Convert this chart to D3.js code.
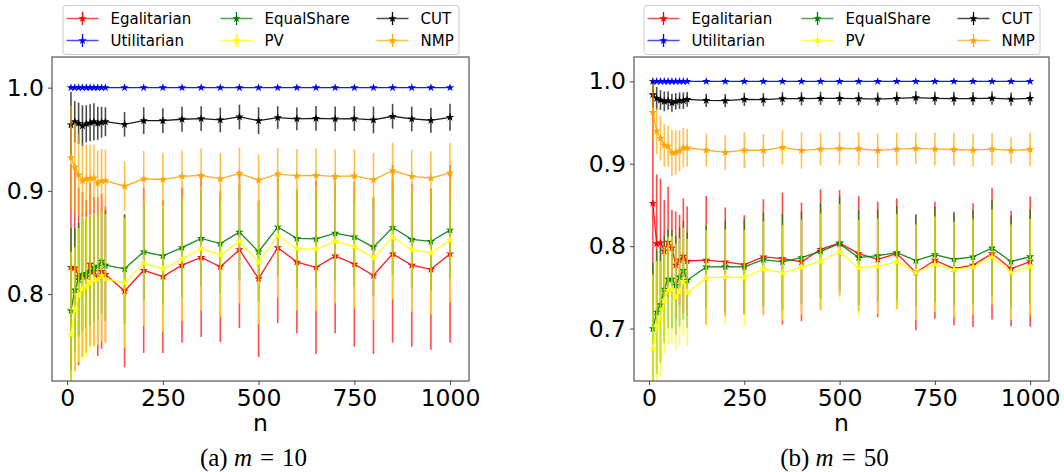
<!DOCTYPE html>
<html>
<head>
<meta charset="utf-8">
<script src="https://cdn.jsdelivr.net/npm/d3@7"></script>
<style>
body { margin: 0; background: #fff; }
svg { display: block; }
</style>
</head>
<body>
<div id="chart-area"></div>
<script>
// n values on the x axis
var nValues = [10, 20, 30, 40, 50, 60, 70, 80, 90, 100,
    150, 200, 250, 300, 350, 400, 450, 500, 550, 600,
    650, 700, 750, 800, 850, 900, 950, 1000];

var seriesNames = ["Egalitarian", "Utilitarian", "EqualShare", "PV", "CUT", "NMP"];
var seriesColors = ["#ff0000", "#0000ff", "#008000", "#ffff00", "#000000", "#ffa500"];
var xTicks = [0, 250, 500, 750, 1000];
var yTicks10 = [0.8, 0.9, 1.0];
var yTicks50 = [0.7, 0.8, 0.9, 1.0];

// (a) m = 10
var egal10 = [0.826, 0.8255, 0.817, 0.819, 0.817, 0.829, 0.822, 0.817, 0.822, 0.819,
    0.803, 0.823, 0.817, 0.828, 0.8355, 0.8265, 0.843, 0.815, 0.845, 0.831,
    0.826, 0.837, 0.829, 0.818, 0.839, 0.828, 0.824, 0.839];
var egal10Err = [0.10, 0.10, 0.086, 0.08, 0.074, 0.079, 0.072, 0.077, 0.075, 0.066,
    0.074, 0.08, 0.074, 0.075, 0.077, 0.073, 0.076, 0.076, 0.073, 0.069,
    0.084, 0.075, 0.08, 0.076, 0.086, 0.079, 0.078, 0.086];
var util10 = [1, 1, 1, 1, 1, 1, 1, 1, 1, 1, 1, 1, 1, 1, 1, 1, 1, 1, 1, 1, 1, 1, 1, 1, 1, 1, 1, 1];
var util10Err = [0, 0, 0, 0, 0, 0, 0, 0, 0, 0, 0, 0, 0, 0, 0, 0, 0, 0, 0, 0, 0, 0, 0, 0, 0, 0, 0, 0];
var equal10 = [0.784, 0.804, 0.814, 0.819, 0.820, 0.822, 0.826, 0.827, 0.832, 0.828,
    0.8245, 0.841, 0.837, 0.845, 0.854, 0.849, 0.860, 0.841, 0.865, 0.854,
    0.8535, 0.859, 0.8555, 0.8455, 0.8645, 0.853, 0.851, 0.862];
var equal10Err = [0.08, 0.06, 0.055, 0.055, 0.053, 0.053, 0.052, 0.052, 0.051, 0.054,
    0.053, 0.047, 0.047, 0.048, 0.047, 0.048, 0.046, 0.048, 0.047, 0.048,
    0.047, 0.046, 0.048, 0.047, 0.046, 0.047, 0.048, 0.047];
var pv10 = [0.761, 0.7845, 0.799, 0.805, 0.807, 0.811, 0.8136, 0.8145, 0.818, 0.8145,
    0.811, 0.830, 0.8245, 0.834, 0.844, 0.838, 0.851, 0.831, 0.8565, 0.844,
    0.8436, 0.851, 0.846, 0.835, 0.855, 0.843, 0.840, 0.852];
var pv10Err = [0.08, 0.061, 0.065, 0.07, 0.068, 0.066, 0.065, 0.064, 0.064, 0.063,
    0.063, 0.061, 0.061, 0.06, 0.06, 0.06, 0.06, 0.06, 0.06, 0.06,
    0.06, 0.06, 0.06, 0.06, 0.06, 0.06, 0.06, 0.06];
var cut10 = [0.964, 0.967, 0.9655, 0.963, 0.965, 0.966, 0.967, 0.9655, 0.9665, 0.967,
    0.9645, 0.968, 0.968, 0.9694, 0.970, 0.9687, 0.9716, 0.968, 0.971, 0.9697,
    0.9703, 0.9697, 0.970, 0.9687, 0.9723, 0.9697, 0.9684, 0.9713];
var cut10Err = [0.032, 0.02, 0.02, 0.02, 0.018, 0.018, 0.018, 0.016, 0.015, 0.014,
    0.012, 0.013, 0.012, 0.012, 0.012, 0.012, 0.012, 0.013, 0.011, 0.011,
    0.012, 0.012, 0.012, 0.013, 0.012, 0.012, 0.012, 0.013];
var nmp10 = [0.9323, 0.9229, 0.9155, 0.910, 0.9116, 0.912, 0.9126, 0.9074, 0.9097, 0.910,
    0.9045, 0.9116, 0.911, 0.914, 0.915, 0.9116, 0.917, 0.9103, 0.9165, 0.9145,
    0.915, 0.914, 0.9145, 0.9106, 0.9197, 0.914, 0.9123, 0.9174];
var nmp10Err = [0.05, 0.043, 0.04, 0.035, 0.033, 0.033, 0.032, 0.032, 0.031, 0.03,
    0.024, 0.027, 0.026, 0.025, 0.026, 0.025, 0.025, 0.025, 0.025, 0.026,
    0.026, 0.026, 0.026, 0.026, 0.027, 0.026, 0.026, 0.029];

// (b) m = 50
var egal50 = [0.852, 0.803, 0.804, 0.794, 0.805, 0.798, 0.777, 0.783, 0.788, 0.782,
    0.783, 0.781, 0.7776, 0.787, 0.785, 0.781, 0.796, 0.804, 0.791, 0.784,
    0.791, 0.768, 0.783, 0.7727, 0.777, 0.791, 0.7727, 0.7813];
var egal50Err = [0.15, 0.084, 0.078, 0.062, 0.067, 0.046, 0.065, 0.055, 0.07, 0.066,
    0.078, 0.066, 0.06, 0.07, 0.08, 0.072, 0.073, 0.064, 0.07, 0.07,
    0.067, 0.07, 0.071, 0.069, 0.075, 0.08, 0.07, 0.079];
var util50 = [1, 1, 1, 1, 1, 1, 1, 1, 1, 1, 1, 1, 1, 1, 1, 1, 1, 1, 1, 1, 1, 1, 1, 1, 1, 1, 1, 1];
var util50Err = [0, 0, 0, 0, 0, 0, 0, 0, 0, 0, 0, 0, 0, 0, 0, 0, 0, 0, 0, 0, 0, 0, 0, 0, 0, 0, 0, 0];
var equal50 = [0.700, 0.720, 0.729, 0.748, 0.760, 0.760, 0.7525, 0.7626, 0.7707, 0.7586,
    0.7748, 0.7752, 0.7748, 0.7837, 0.7809, 0.7861, 0.7938, 0.8031, 0.7861, 0.7885,
    0.7922, 0.7825, 0.7898, 0.7841, 0.7869, 0.7978, 0.7813, 0.7873];
var equal50Err = [0.08, 0.075, 0.07, 0.065, 0.06, 0.06, 0.06, 0.06, 0.06, 0.058,
    0.05, 0.056, 0.058, 0.057, 0.058, 0.056, 0.058, 0.057, 0.058, 0.056,
    0.057, 0.056, 0.058, 0.056, 0.057, 0.058, 0.056, 0.057];
var pv50 = [0.6755, 0.7019, 0.712, 0.7343, 0.7464, 0.7472, 0.7383, 0.7444, 0.7573, 0.7436,
    0.7614, 0.7626, 0.7618, 0.7723, 0.7675, 0.7744, 0.7817, 0.793, 0.7736, 0.7756,
    0.7809, 0.7683, 0.778, 0.7715, 0.7748, 0.7869, 0.7683, 0.7748];
var pv50Err = [0.09, 0.08, 0.07, 0.065, 0.065, 0.065, 0.065, 0.065, 0.065, 0.065,
    0.058, 0.058, 0.058, 0.058, 0.058, 0.058, 0.058, 0.058, 0.058, 0.058,
    0.058, 0.058, 0.058, 0.058, 0.058, 0.058, 0.058, 0.058];
var cut50 = [0.9838, 0.9793, 0.9773, 0.9757, 0.9765, 0.974, 0.9757, 0.9765, 0.9765, 0.9781,
    0.9769, 0.9765, 0.9781, 0.9777, 0.9789, 0.9789, 0.9793, 0.9793, 0.9789, 0.9785,
    0.9793, 0.9801, 0.9793, 0.9789, 0.9789, 0.9797, 0.9785, 0.9793];
var cut50Err = [0.016, 0.014, 0.012, 0.012, 0.011, 0.011, 0.01, 0.01, 0.01, 0.009,
    0.008, 0.008, 0.008, 0.008, 0.008, 0.008, 0.008, 0.008, 0.008, 0.008,
    0.008, 0.008, 0.008, 0.008, 0.008, 0.008, 0.008, 0.008];
var nmp50 = [0.9623, 0.9396, 0.9307, 0.9226, 0.9214, 0.9133, 0.9137, 0.9157, 0.9194, 0.9194,
    0.9165, 0.9137, 0.9165, 0.9161, 0.9198, 0.9161, 0.9177, 0.9186, 0.9182, 0.9161,
    0.9177, 0.9186, 0.9177, 0.9173, 0.9165, 0.9177, 0.9161, 0.9173];
var nmp50Err = [0.035, 0.028, 0.027, 0.026, 0.025, 0.028, 0.027, 0.025, 0.024, 0.023,
    0.02, 0.021, 0.022, 0.02, 0.021, 0.022, 0.02, 0.02, 0.02, 0.021,
    0.02, 0.019, 0.02, 0.02, 0.02, 0.02, 0.016, 0.02];

var panels = [
    {id: "a", left: 52, right: 469, yDomain: [0.7158, 1.0297], yTicks: yTicks10, label: "(a) ", mval: "10",
     values: [egal10, util10, equal10, pv10, cut10, nmp10],
     errors: [egal10Err, util10Err, equal10Err, pv10Err, cut10Err, nmp10Err]},
    {id: "b", left: 634, right: 1049, yDomain: [0.6364, 1.0295], yTicks: yTicks50, label: "(b) ", mval: "50",
     values: [egal50, util50, equal50, pv50, cut50, nmp50],
     errors: [egal50Err, util50Err, equal50Err, pv50Err, cut50Err, nmp50Err]}
];

var plotTop = 57, plotBottom = 381;
var tickFont = "DejaVu Sans, sans-serif";

var svg = d3.select("#chart-area").append("svg")
    .attr("width", 1064)
    .attr("height", 472);

var star = d3.symbol().type(d3.symbolStar).size(22);

panels.forEach(function(p) {
    var x = d3.scaleLinear().domain([-39.5, 1049.5]).range([p.left, p.right]);
    var y = d3.scaleLinear().domain(p.yDomain).range([plotBottom, plotTop]);

    svg.append("clipPath").attr("id", "clip-" + p.id)
        .append("rect")
        .attr("x", p.left).attr("y", plotTop)
        .attr("width", p.right - p.left).attr("height", plotBottom - plotTop);

    var plot = svg.append("g").attr("clip-path", "url(#clip-" + p.id + ")");

    var line = d3.line()
        .x(function(d, i) { return x(nValues[i]); })
        .y(function(d) { return y(d); });

    p.values.forEach(function(vals, s) {
        var errs = p.errors[s];
        var color = seriesColors[s];
        var g = plot.append("g");

        g.selectAll("line.err").data(vals).enter().append("line")
            .attr("class", "err")
            .attr("x1", function(d, i) { return x(nValues[i]); })
            .attr("x2", function(d, i) { return x(nValues[i]); })
            .attr("y1", function(d, i) { return y(d - errs[i]); })
            .attr("y2", function(d, i) { return y(d + errs[i]); })
            .attr("stroke", color)
            .attr("stroke-width", 1.6)
            .attr("stroke-opacity", 0.7);

        g.append("path")
            .attr("d", line(vals))
            .attr("fill", "none")
            .attr("stroke", color)
            .attr("stroke-width", 1.3)
            .attr("stroke-opacity", 0.9);

        g.selectAll("path.mark").data(vals).enter().append("path")
            .attr("class", "mark")
            .attr("d", star)
            .attr("transform", function(d, i) { return "translate(" + x(nValues[i]) + "," + y(d) + ")"; })
            .attr("fill", color);
    });

    // frame
    svg.append("rect")
        .attr("x", p.left).attr("y", plotTop)
        .attr("width", p.right - p.left).attr("height", plotBottom - plotTop)
        .attr("fill", "none")
        .attr("stroke", "#555")
        .attr("stroke-width", 1.2);

    var xAxis = svg.append("g")
        .attr("transform", "translate(0," + plotBottom + ")")
        .call(d3.axisBottom(x).tickValues(xTicks).tickSize(4).tickPadding(4).tickFormat(d3.format("d")));
    var yAxis = svg.append("g")
        .attr("transform", "translate(" + p.left + ",0)")
        .call(d3.axisLeft(y).tickValues(p.yTicks).tickSize(4).tickPadding(4).tickFormat(d3.format(".1f")));

    [xAxis, yAxis].forEach(function(a) {
        a.select(".domain").remove();
        a.selectAll(".tick line").attr("stroke", "#444");
        a.selectAll(".tick text")
            .attr("fill", "#000")
            .style("font-family", tickFont)
            .style("font-size", "23.5px");
    });

    var cx = (p.left + p.right) / 2;
    svg.append("text")
        .attr("x", cx).attr("y", 431)
        .attr("text-anchor", "middle")
        .style("font-family", tickFont)
        .style("font-size", "23.5px")
        .text("n");

    var cap = svg.append("text")
        .attr("x", cx - 7).attr("y", 466)
        .attr("text-anchor", "middle")
        .style("font-family", "Liberation Serif, Times New Roman, serif")
        .style("font-size", "25px");
    cap.append("tspan").text(p.label);
    cap.append("tspan").style("font-style", "italic").text("m");
    cap.append("tspan").attr("dx", 8).text("=");
    cap.append("tspan").attr("dx", 8).text(p.mval);

    // legend
    var lg = svg.append("g").attr("transform", "translate(" + (cx - 198) + ",5)");
    lg.append("rect")
        .attr("x", 0.5).attr("y", 0.5)
        .attr("width", 396).attr("height", 49)
        .attr("rx", 3)
        .attr("fill", "#fff")
        .attr("stroke", "#ccc");

    var colX = [4, 158, 314];
    var rowY = [13.5, 35.5];
    seriesNames.forEach(function(name, s) {
        var col = Math.floor(s / 2), row = s % 2;
        var hx = colX[col], hy = rowY[row];
        var color = seriesColors[s];
        lg.append("line")
            .attr("x1", hx).attr("x2", hx + 32)
            .attr("y1", hy).attr("y2", hy)
            .attr("stroke", color).attr("stroke-width", 1.5).attr("stroke-opacity", 0.7);
        lg.append("line")
            .attr("x1", hx + 16).attr("x2", hx + 16)
            .attr("y1", hy - 6.5).attr("y2", hy + 6.5)
            .attr("stroke", color).attr("stroke-width", 1.3);
        lg.append("path")
            .attr("d", star)
            .attr("transform", "translate(" + (hx + 16) + "," + hy + ")")
            .attr("fill", color);
        lg.append("text")
            .attr("x", hx + 44).attr("y", hy + 5.5)
            .style("font-family", tickFont)
            .style("font-size", "15px")
            .text(name);
    });
});
</script>
</body>
</html>
